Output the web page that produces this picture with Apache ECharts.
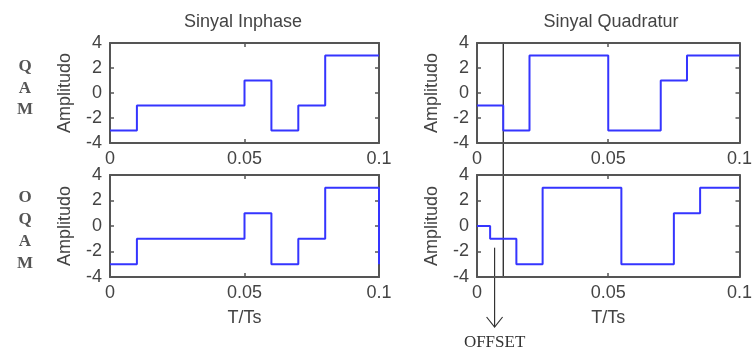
<!DOCTYPE html>
<html>
<head>
<meta charset="utf-8">
<script src="https://cdn.jsdelivr.net/npm/echarts@6/dist/echarts.min.js"></script>
<style>
  html, body { margin: 0; padding: 0; background: #fff; }
  #chart { width: 755px; height: 351px; }
</style>
</head>
<body>
<div id="chart"></div>
<script>
// step breakpoints (time, amplitude) for each panel
const qamInphaseT = [0, 0.01, 0.05, 0.06, 0.07, 0.08, 0.1];
const qamInphaseV = [-3, -1, 1, -3, -1, 3, 3];
const qamQuadT = [0, 0.01, 0.02, 0.05, 0.07, 0.08, 0.1];
const qamQuadV = [-1, -3, 3, -3, 1, 3, 3];
const oqamInphaseT = [0, 0.01, 0.05, 0.06, 0.07, 0.08, 0.1, 0.1];
const oqamInphaseV = [-3, -1, 1, -3, -1, 3, 3, -3];
const oqamQuadT = [0, 0.005, 0.015, 0.025, 0.055, 0.075, 0.085, 0.1];
const oqamQuadV = [0, -1, -3, 3, -3, 1, 3, 3];

const titles = ['Sinyal Inphase', 'Sinyal Quadratur'];
const offsetT = 0.01;

const chart = echarts.init(document.getElementById('chart'));

const sans = 'Liberation Sans';
const textColor = '#444';
const frameColor = '#555';

const grids = [
  { left: 110, top: 43, width: 269, height: 100 },
  { left: 477, top: 43, width: 269, height: 100 },
  { left: 110, top: 175, width: 269, height: 102 },
  { left: 477, top: 175, width: 270, height: 102 }
];

const pair = (t, v) => t.map((x, i) => [x, v[i]]);
const panels = [
  pair(qamInphaseT, qamInphaseV),
  pair(qamQuadT, qamQuadV),
  pair(oqamInphaseT, oqamInphaseV),
  pair(oqamQuadT, oqamQuadV)
];

const xAxis = [], yAxis = [], series = [];
grids.forEach((g, i) => {
  const base = {
    gridIndex: i,
    type: 'value',
    axisLine: { show: true, onZero: false, lineStyle: { color: frameColor, width: 2 } },
    axisTick: { show: true, inside: true, length: 4, lineStyle: { color: frameColor, width: 1.5 } },
    splitLine: { show: false },
    axisLabel: { color: textColor, fontFamily: sans, fontSize: 18 }
  };
  xAxis.push(Object.assign({}, base, {
    min: 0, max: 0.1, interval: 0.05, position: 'bottom',
    axisLabel: Object.assign({}, base.axisLabel, { margin: 7, showMaxLabel: true }),
    name: i >= 2 ? 'T/Ts' : '', nameLocation: 'middle', nameGap: 32,
    nameTextStyle: { color: textColor, fontFamily: sans, fontSize: 18 }
  }));
  xAxis.push(Object.assign({}, base, {
    min: 0, max: 0.1, interval: 0.05, position: 'top', axisLabel: { show: false }
  }));
  yAxis.push(Object.assign({}, base, {
    min: -4, max: 4, interval: 2, position: 'left',
    axisLabel: Object.assign({}, base.axisLabel, { margin: 8 }),
    name: 'Amplitudo', nameLocation: 'middle', nameGap: 36,
    nameTextStyle: { color: textColor, fontFamily: sans, fontSize: 18 }
  }));
  yAxis.push(Object.assign({}, base, {
    min: -4, max: 4, interval: 2, position: 'right', axisLabel: { show: false }
  }));
  series.push({
    type: 'line', step: 'end', xAxisIndex: i * 2, yAxisIndex: i * 2,
    data: panels[i], showSymbol: false, silent: true,
    lineStyle: { color: '#3535ff', width: 2 }
  });
});

chart.setOption({
  animation: false,
  backgroundColor: '#fff',
  title: [
    { text: titles[0], left: 243, top: 13, textAlign: 'center', padding: 0,
      textStyle: { color: textColor, fontFamily: sans, fontSize: 18, fontWeight: 'normal' } },
    { text: titles[1], left: 611, top: 13, textAlign: 'center', padding: 0,
      textStyle: { color: textColor, fontFamily: sans, fontSize: 18, fontWeight: 'normal' } }
  ],
  grid: grids,
  xAxis: xAxis,
  yAxis: yAxis,
  series: series
});

// offset marker: vertical line through both quadrature panels, arrow and label
const pTop = chart.convertToPixel({ xAxisIndex: 2, yAxisIndex: 2 }, [offsetT, 4]);
const pBot = chart.convertToPixel({ xAxisIndex: 6, yAxisIndex: 6 }, [offsetT, -4]);
const pArrow = chart.convertToPixel({ xAxisIndex: 6, yAxisIndex: 6 }, [0.0067, -1.7]);
const ax = pArrow[0], ay = pArrow[1], aEnd = 327;

chart.setOption({
  graphic: [
    { type: 'line', shape: { x1: pTop[0], y1: pTop[1], x2: pBot[0], y2: pBot[1] + 1 },
      style: { stroke: '#111', lineWidth: 1.2 }, silent: true },
    { type: 'line', shape: { x1: ax, y1: ay, x2: ax, y2: aEnd },
      style: { stroke: '#333', lineWidth: 1.2 }, silent: true },
    { type: 'polyline', shape: { points: [[ax - 8, aEnd - 10], [ax, aEnd], [ax + 8, aEnd - 10]] },
      style: { stroke: '#333', lineWidth: 1.2, fill: null }, silent: true },
    { type: 'text', x: ax, y: 343,
      style: { text: 'OFFSET', font: '17px "Liberation Serif"', fill: '#333', align: 'center', verticalAlign: 'middle' } },
    { type: 'text', x: 25, y: 56,
      style: { text: 'Q\nA\nM', font: 'bold 17px "Liberation Serif"', fill: '#555', align: 'center', verticalAlign: 'top', lineHeight: 21.5 } },
    { type: 'text', x: 25, y: 187,
      style: { text: 'O\nQ\nA\nM', font: 'bold 17px "Liberation Serif"', fill: '#555', align: 'center', verticalAlign: 'top', lineHeight: 22 } }
  ]
});
</script>
</body>
</html>
